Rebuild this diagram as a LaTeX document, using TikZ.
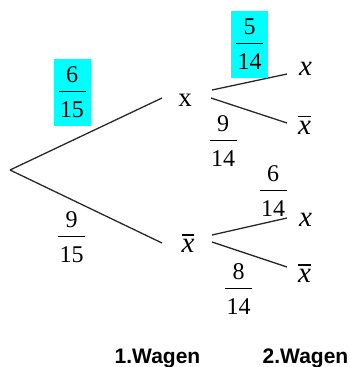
\documentclass[tikz,border=0pt]{standalone}
\usepackage{fontspec}
\setmainfont{Liberation Serif}
\setsansfont{Liberation Sans}
\definecolor{boxcyan}{RGB}{0,255,255}
\definecolor{linegray}{RGB}{40,40,40}
\newcommand\fr[2]{\vbox{\offinterlineskip\halign{\hskip1.5pt\hfil##\hfil\hskip1.5pt\cr #1\cr\noalign{\kern8pt\hrule height 1.2pt\kern9.5pt}#2\cr}}}
\newcommand\xbar{\vbox{\offinterlineskip\hrule height 1.3pt\kern3.5pt\hbox{\itshape x}}}
\tikzset{
  branch/.style={draw=linegray, line width=1.3pt},
  prob/.style={inner sep=0pt, font=\fontsize{24}{28}\selectfont},
  hprob/.style={prob, fill=boxcyan, minimum width=37pt, minimum height=67pt},
  evt/.style={inner sep=0pt, font=\fontsize{29}{32}\selectfont},
  wagen/.style={inner sep=0pt, anchor=base, font=\sffamily\bfseries\fontsize{21}{24}\selectfont}
}
\begin{document}
\begin{tikzpicture}[x=1pt,y=-1pt]
\useasboundingbox (0,0) rectangle (349,367);
% branch points
\coordinate (root) at (10,170);
\coordinate (a1) at (162,98);
\coordinate (a2) at (162,243);
\coordinate (b1s) at (212,90);
\coordinate (b1e) at (287,74);
\coordinate (b2s) at (211,98);
\coordinate (b2e) at (287,123);
\coordinate (c1s) at (212,235);
\coordinate (c1e) at (287,218);
\coordinate (c2s) at (212,242);
\coordinate (c2e) at (287,267);
% connectors
\draw[branch] (root) -- (a1);
\draw[branch] (root) -- (a2);
\draw[branch] (b1s) -- (b1e);
\draw[branch] (b2s) -- (b2e);
\draw[branch] (c1s) -- (c1e);
\draw[branch] (c2s) -- (c2e);
% events
\node[evt, font=\fontsize{27}{30}\selectfont] (x1) at (185,100) {x};
\node[evt] (x2) at (188,243.5) {\xbar};
\node[evt] (x11) at (305.5,68.5) {\itshape x};
\node[evt] (x12) at (304.5,125) {\xbar};
\node[evt] (x21) at (305.5,220) {\itshape x};
\node[evt] (x22) at (304.5,273.5) {\xbar};
% probabilities
\node[hprob] (p1) at (72,92) {\fr{6}{15}};
\node[prob] (p2) at (71.5,237) {\fr{9}{15}};
\node[hprob] (p11) at (249.5,44.5) {\fr{5}{14}};
\node[prob] (p12) at (223,141) {\fr{9}{14}};
\node[prob] (p21) at (273,191) {\fr{6}{14}};
\node[prob] (p22) at (238.5,289) {\fr{8}{14}};
% stage labels
\node[wagen] (w1) at (157.5,363) {1.Wagen};
\node[wagen] (w2) at (305.5,363) {2.Wagen};
\end{tikzpicture}
\end{document}
